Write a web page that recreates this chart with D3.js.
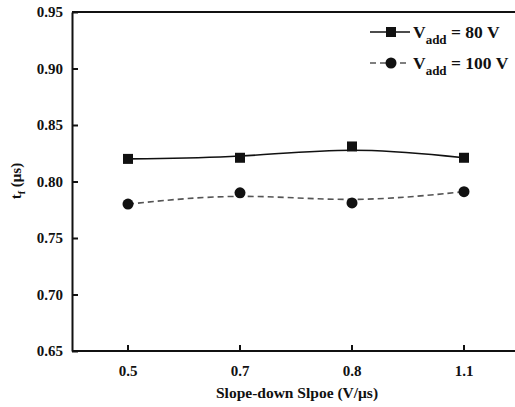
<!DOCTYPE html>
<html><head><meta charset="utf-8">
<script src="https://cdn.jsdelivr.net/npm/d3@7"></script>
<style>body{margin:0;background:#fff}svg text{font-family:"Liberation Serif","Times New Roman",serif;font-weight:bold;fill:#111}</style>
</head><body>
<script>
const categories = ["0.5", "0.7", "0.8", "1.1"];
const seriesNames = ["80 V", "100 V"];
const v80 = [0.820, 0.821, 0.831, 0.821];
const v100 = [0.780, 0.790, 0.781, 0.791];
const yTicks = [0.65, 0.70, 0.75, 0.80, 0.85, 0.90, 0.95];

const W = 515, H = 407;
const m = {left: 72, top: 12, bottom: 56};
const svg = d3.select("body").append("svg").attr("width", W).attr("height", H);

const x = d3.scaleBand().domain(categories).range([m.left, m.left + 448]);
const y = d3.scaleLinear().domain([0.65, 0.95]).range([H - m.bottom, m.top]);
const cx = d => x(d) + x.bandwidth() / 2;

// frame
svg.append("line").attr("x1", m.left).attr("x2", W).attr("y1", y(0.95)).attr("y2", y(0.95)).attr("stroke", "#111").attr("stroke-width", 2);

const ya = svg.append("g").attr("transform", `translate(${m.left},0)`)
  .call(d3.axisLeft(y).tickValues(yTicks).tickFormat(d3.format(".2f")).tickSizeInner(-6).tickSizeOuter(0).tickPadding(9));
ya.select(".domain").attr("stroke", "#111").attr("stroke-width", 2);
ya.selectAll(".tick line").attr("stroke", "#111").attr("stroke-width", 2);
ya.selectAll(".tick text").attr("font-size", 15);

const xa = svg.append("g").attr("transform", `translate(0,${y(0.65)})`)
  .call(d3.axisBottom(x).tickSizeInner(-6).tickSizeOuter(0).tickPadding(14));
xa.select(".domain").attr("stroke", "#111").attr("stroke-width", 2).attr("d", `M${m.left},0H${W}`);
xa.selectAll(".tick line").attr("stroke", "#111").attr("stroke-width", 2);
xa.selectAll(".tick text").attr("font-size", 15);

// axis titles
svg.append("text").attr("x", 297).attr("y", 398).attr("text-anchor", "middle").attr("font-size", 15.5).text("Slope-down Slpoe (V/μs)");
const yl = svg.append("text").attr("transform", "translate(21,181) rotate(-90)").attr("text-anchor", "middle").attr("font-size", 15);
yl.append("tspan").text("t");
yl.append("tspan").attr("font-size", 10).attr("dy", 4).text("f");
yl.append("tspan").attr("dy", -4).text(" (μs)");

const line = d3.line().x((d, i) => cx(categories[i])).y(d => y(d)).curve(d3.curveBasis);

svg.append("path").attr("d", line(v80)).attr("fill", "none").attr("stroke", "#111").attr("stroke-width", 1.6);
svg.append("path").attr("d", line(v100)).attr("fill", "none").attr("stroke", "#555").attr("stroke-width", 1.6).attr("stroke-dasharray", "6,4");

svg.selectAll(".sq").data(v80).enter().append("rect")
  .attr("x", (d, i) => cx(categories[i]) - 5).attr("y", d => y(d) - 5).attr("width", 10).attr("height", 10).attr("fill", "#111");
svg.selectAll(".ci").data(v100).enter().append("circle")
  .attr("cx", (d, i) => cx(categories[i])).attr("cy", d => y(d)).attr("r", 5.5).attr("fill", "#111");

// legend
const lg = [{y: 32, dash: null, col: "#111", shape: "sq", name: seriesNames[0]}, {y: 63, dash: "6,4", col: "#555", shape: "ci", name: seriesNames[1]}];
lg.forEach(o => {
  svg.append("line").attr("x1", 370).attr("x2", 410).attr("y1", o.y).attr("y2", o.y).attr("stroke", o.col).attr("stroke-width", 1.6).attr("stroke-dasharray", o.dash);
  if (o.shape === "sq") svg.append("rect").attr("x", 386).attr("y", o.y - 5).attr("width", 10).attr("height", 10).attr("fill", "#111");
  else svg.append("circle").attr("cx", 391).attr("cy", o.y).attr("r", 5.5).attr("fill", "#111");
  const t = svg.append("text").attr("x", 413).attr("y", o.y + 6).attr("font-size", 17.5);
  t.append("tspan").text("V");
  t.append("tspan").attr("font-size", 13).attr("dy", 6).text("add");
  t.append("tspan").attr("dy", -6).text(" = " + o.name);
});
</script>
</body></html>
